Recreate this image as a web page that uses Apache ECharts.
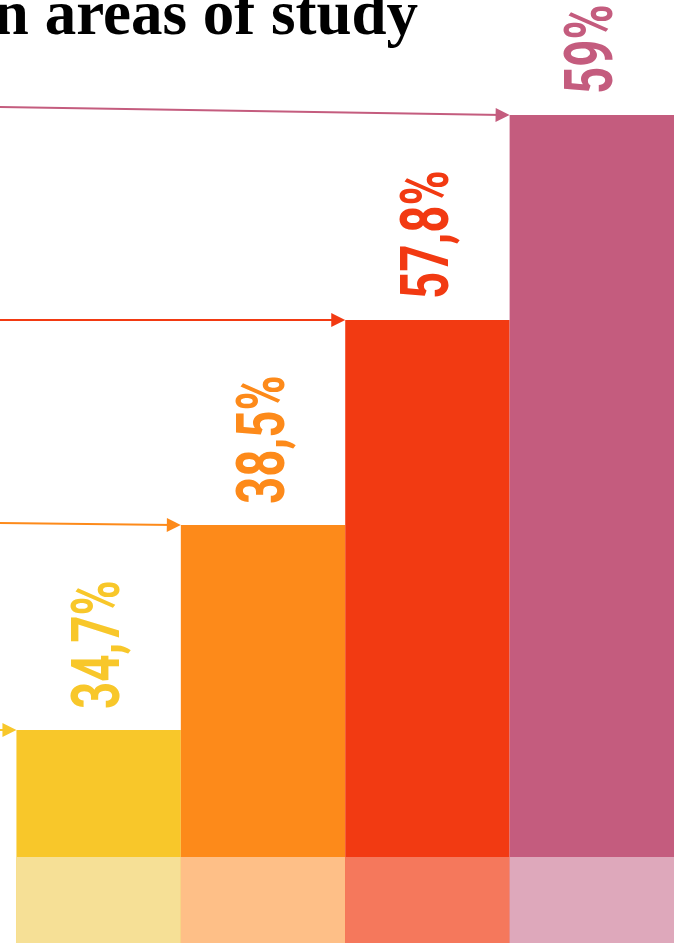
<!DOCTYPE html>
<html>
<head>
<meta charset="utf-8">
<script src="https://cdn.jsdelivr.net/npm/echarts@6/dist/echarts.min.js"></script>
<style>
  html, body { margin: 0; padding: 0; background: #fff; }
  #chart { width: 674px; height: 943px; }
</style>
</head>
<body>
<div id="chart"></div>
<script>
// values
var shares = [34.7, 38.5, 57.8, 59];
// bar tops and arrow starts, in steps above the page bottom (px-like units)
var barTops = [213, 418, 623, 828];
var arrowStarts = [213, 420, 623, 836];
var baseBand = 86;
var mainColors = ['#F8C72A', '#FD8A1A', '#F23A12', '#C45C7E'];
var bandColors = ['#F6E096', '#FEBF87', '#F5785C', '#DEA8BB'];

var chart = echarts.init(document.getElementById('chart'));

var arrowTip = 7 / 164.4; // half the arrow head, in x units

var mainData = shares.map(function (s, i) {
    return { value: [i + 0.5, barTops[i]], itemStyle: { color: mainColors[i] } };
});

var bandData = shares.map(function (s, i) {
    return { value: [i + 0.5, baseBand], itemStyle: { color: bandColors[i] } };
});

var labelData = shares.map(function (s, i) {
    return [i + 0.5, barTops[i], i];
});

var arrows = shares.map(function (s, i) {
    return [
        { coord: [-0.1, arrowStarts[i]], lineStyle: { color: mainColors[i] } },
        { coord: [i - arrowTip, barTops[i]] }
    ];
});

// condensed vertical labels: a normal bold face squeezed along the reading direction
function renderLabel(params, api) {
    var i = api.value(2);
    var pt = api.coord([api.value(0), api.value(1)]);
    return {
        type: 'text',
        x: pt[0] + 4,
        y: pt[1] - 21,
        rotation: Math.PI / 2,
        scaleX: 0.72,
        style: {
            text: String(shares[i]).replace('.', ',') + '%',
            font: 'bold 66px Roboto',
            fill: mainColors[i],
            align: 'left',
            verticalAlign: 'middle'
        }
    };
}

var option = {
    animation: false,
    title: {
        text: 'n areas of study',
        right: 256,
        top: -14,
        padding: 0,
        textStyle: {
            fontFamily: 'Liberation Serif',
            fontWeight: 'bold',
            fontSize: 63,
            color: '#000'
        }
    },
    grid: { left: 0, right: 0, top: 0, bottom: 0 },
    xAxis: { type: 'value', min: -0.1, max: 4, show: false },
    yAxis: { type: 'value', min: 0, max: 943, show: false },
    series: [
        {
            type: 'bar',
            data: mainData,
            barWidth: '100%',
            barGap: '-100%',
            markLine: {
                silent: true,
                symbol: ['none', 'triangle'],
                symbolSize: [14, 14],
                label: { show: false },
                lineStyle: { type: 'solid', width: 2 },
                data: arrows
            }
        },
        {
            type: 'bar',
            data: bandData,
            barWidth: '100%',
            barGap: '-100%',
            z: 3
        },
        {
            type: 'custom',
            data: labelData,
            renderItem: renderLabel,
            z: 4
        }
    ]
};

chart.setOption(option);
</script>
</body>
</html>
